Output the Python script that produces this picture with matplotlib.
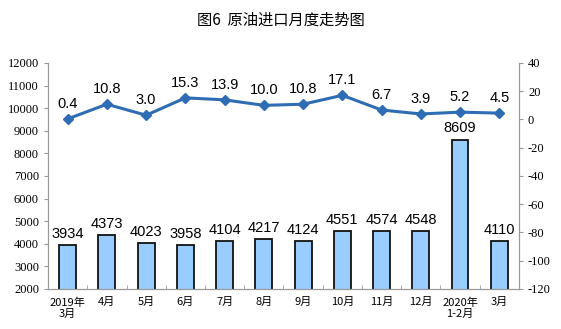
import matplotlib
matplotlib.use("Agg")
import matplotlib.pyplot as plt
import numpy as np

plt.rcParams['font.family'] = ['Noto Sans CJK SC', 'DejaVu Sans']
plt.rcParams['axes.unicode_minus'] = False

months = ['2019年\n3月', '4月', '5月', '6月', '7月', '8月', '9月', '10月', '11月', '12月', '2020年\n1-2月', '3月']
imports = [3934, 4373, 4023, 3958, 4104, 4217, 4124, 4551, 4574, 4548, 8609, 4110]
growth = [0.4, 10.8, 3.0, 15.3, 13.9, 10.0, 10.8, 17.1, 6.7, 3.9, 5.2, 4.5]

fig = plt.figure(figsize=(5.61, 3.29), dpi=100)
ax = fig.add_axes([0.0856, 0.1216, 0.8394, 0.687])
x = np.arange(len(months))

ax.bar(x, imports, width=0.43, color='#99CCFF', edgecolor='#111111', linewidth=1.3, zorder=2)
for xi, v in zip(x, imports):
    ax.annotate(str(v), (xi, v), xytext=(0, 3), textcoords='offset points',
                ha='center', va='bottom', fontsize=10.5, family='Liberation Sans')

ax.set_ylim(2000, 12000)
ax.set_yticks(range(2000, 12001, 1000))
ax.set_xlim(-0.5, len(months) - 0.5)
ax.set_xticks(x)
ax.set_xticklabels(months, fontsize=8, family=['Noto Sans CJK SC'], linespacing=1.1)
ax.set_xticks(np.arange(-0.5, len(months), 1), minor=True)
ax.tick_params(axis='x', which='major', length=0, pad=6)
ax.tick_params(axis='x', which='minor', length=3, direction='in', color='#999999')
ax.tick_params(axis='y', labelsize=9, length=3, color='#999999')
for lab in ax.get_yticklabels():
    lab.set_family('Liberation Serif')

ax2 = ax.twinx()
ax2.plot(x, growth, color='#2E6DB4', linewidth=2.2, marker='D', markersize=5, zorder=3)
for xi, v in zip(x, growth):
    ax2.annotate(f'{v:.1f}', (xi, v), xytext=(0, 6), textcoords='offset points',
                 ha='center', va='bottom', fontsize=10.5, family='Liberation Sans')
ax2.set_ylim(-120, 40)
ax2.set_yticks(range(-120, 41, 20))
ax2.tick_params(axis='y', labelsize=9, length=3, color='#999999')
for lab in ax2.get_yticklabels():
    lab.set_family('Liberation Serif')

for a in (ax, ax2):
    a.spines['top'].set_visible(False)
    for s in ('left', 'right', 'bottom'):
        a.spines[s].set_color('#999999')

fig.text(0.5, 0.94, '图6  原油进口月度走势图', ha='center', va='center', fontsize=11)

fig.savefig('out.png', dpi=100)
